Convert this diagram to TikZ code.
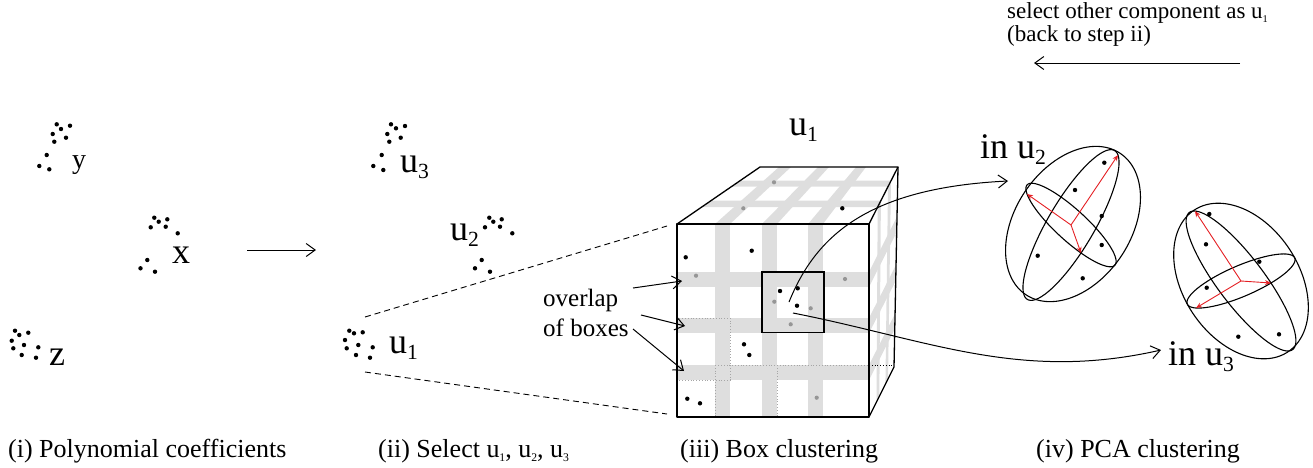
\documentclass[tikz,border=0pt]{standalone}
\usepackage{fontspec}
\setmainfont{Liberation Serif}
\usetikzlibrary{arrows.meta}
\definecolor{bandgray}{RGB}{222,222,222}
\definecolor{dotgray}{RGB}{150,150,150}
\definecolor{pcared}{RGB}{228,32,36}
% lowered, shrunken index: \subidx[scale]{text}
\newcommand\subidx[2][0.6]{\raisebox{-0.4ex}{\scalebox{#1}{#2}}}
% ellipse c + a cos t + b sin t : {style}{cx}{cy}{ax}{ay}{bx}{by}
\newcommand\ering[7]{\draw[#1] plot[domain=0:355,samples=72,smooth cycle,variable=\t]
  ({#2+(#4)*cos(\t)+(#6)*sin(\t)},{#3+(#5)*cos(\t)+(#7)*sin(\t)});}
\begin{document}
\begin{tikzpicture}[x=1pt,y=-1pt,
  lab/.style={inner sep=0pt, anchor=base west, font=\fontsize{36}{40}\selectfont},
  smalllab/.style={inner sep=0pt, anchor=base west, font=\fontsize{28}{32}\selectfont},
  captext/.style={inner sep=0pt, anchor=base west, font=\fontsize{26}{30}\selectfont},
  note/.style={inner sep=0pt, anchor=north west, align=left},
  barb/.style={-{Straight Barb[length=9pt,width=13pt]}, line width=1pt},
  cubeedge/.style={line width=1.3pt, line join=round},
  ax/.style={draw=pcared, line width=0.9pt, -{Stealth[length=6pt,width=5pt]}},
  ring/.style={line width=1.1pt},
  boxline/.style={dash pattern=on 6pt off 4pt, line width=0.9pt},
  olap/.style={dotted, draw=gray!70, line width=0.8pt}
]
\useasboundingbox (0,0) rectangle (1313,467);

% ---------- (i) polynomial coefficients ----------
\foreach \p in {(56.7,124.3),(61,129),(70,125.7),(52.7,134),(66,137.7),(54.3,141.7),(46.7,155),(39.3,166),(49.3,169.3)}
  \fill \p circle (2.2pt);
\foreach \p in {(154.3,217.7),(158.7,221.7),(167.3,219.3),(150.7,227.3),(165.7,226.7),(177.7,233.3),(147.3,260),(140.5,268.3),(155,271.7)}
  \fill \p circle (2.2pt);
\foreach \p in {(15,330.7),(19.3,335),(28.3,332.7),(11.7,340.7),(24,345),(38.3,347.3),(13.3,348.3),(21.7,355),(36,357.7)}
  \fill \p circle (2.2pt);
\node[smalllab] (ly) at (72,168) {y};
\node[lab] (lx) at (172,263) {x};
\node[lab] (lz) at (49,365) {z};
\coordinate (stepS) at (247,250);
\coordinate (stepE) at (316,250);
\draw[barb] (stepS) -- (stepE);

% ---------- (ii) selected coordinates ----------
\foreach \p in {(391,124.3),(396,128.3),(405,126),(387.3,134),(400.7,137.7),(389.3,141.7),(381.7,155),(373.3,166),(383.3,170)}
  \fill \p circle (2.2pt);
\foreach \p in {(489.3,217.7),(493.3,221.7),(501.7,219.3),(485,227.3),(500,226.7),(512.3,233.3),(481.7,260),(475,268.3),(490,271.7)}
  \fill \p circle (2.2pt);
\foreach \p in {(349.3,330.7),(354,333.3),(362.7,332.3),(345,340),(358.3,345),(372.7,347.3),(346.7,348.3),(356,355),(370,357.7)}
  \fill \p circle (2.2pt);
\node[lab] (lu3) at (400,172) {u\subidx{3}};
\node[lab] (lu2) at (450,240) {u\subidx{2}};
\node[lab] (lu1) at (389,353) {u\subidx{1}};

% ---------- (iii) box clustering: the cube ----------
\coordinate (fA) at (677,224);
\coordinate (fB) at (869,224);
\coordinate (fC) at (869,417);
\coordinate (fD) at (677,417);
\coordinate (bTL) at (760,167);
\coordinate (bTR) at (898,167);
\coordinate (bBR) at (894,367);

% overlapping box bands, front face
\foreach \a in {715,762,808} \fill[bandgray] (\a,224) rectangle (\a+15,417);
\foreach \a in {272,318,365} \fill[bandgray] (677,\a) rectangle (869,\a+15);
% top face
\fill[bandgray] (715,224)--(730,224)--(791,167)--(779,167)--cycle;
\fill[bandgray] (762,224)--(777,224)--(829,167)--(818,167)--cycle;
\fill[bandgray] (808,224)--(823,224)--(866,167)--(856,167)--cycle;
\fill[bandgray] (702,207)--(878,207)--(881,200.6)--(711,200.6)--cycle;
\fill[bandgray] (731,186.7)--(888,186.7)--(891,180.7)--(740,180.7)--cycle;
% right face
\fill[bandgray] (869,272)--(869,287)--(896.7,232.2)--(897,216.6)--cycle;
\fill[bandgray] (869,318)--(869,333)--(895.7,281)--(896,265)--cycle;
\fill[bandgray] (869,365)--(869,380)--(894.8,329)--(895.1,313.6)--cycle;
\fill[bandgray] (877.7,206.9)--(880.9,200.6)--(879.3,396.5)--(876.5,402)--cycle;
\fill[bandgray] (888,186.7)--(891,180.7)--(888,379)--(885.4,384.3)--cycle;

% outlines of single overlapping boxes
\draw[olap] (677,318) rectangle (730,380);
\draw[olap] (715,365) rectangle (777,417);
\draw[olap] (777,365) -- (869,365);
\draw[dotted, line width=0.8pt] (869,365) -- (893,365);

% points inside the cube
\foreach \p in {(842.3,208.3),(685.7,257.3),(751.7,250.7),(780,291),(797.7,288.3),(797,305.7),(744,344.3),(749.3,355),(687.3,398.7),(700,403.3)}
  \fill \p circle (2.2pt);
\foreach \p in {(774,182.3),(743.3,208.3),(696,275.7),(845,279),(774.3,301.7),(810.7,308.3),(790.7,324.3),(816.7,397.7)}
  \fill[dotgray] \p circle (2.1pt);

% cube edges
\draw[cubeedge] (fA) rectangle (fC);
\draw[cubeedge] (fA) -- (bTL) -- (bTR) -- (fB);
\draw[cubeedge] (bTR) -- (bBR) -- (fC);
% highlighted box
\coordinate (hbA) at (762,272);
\coordinate (hbB) at (824,332.5);
\draw[line width=1.2pt] (hbA) rectangle (hbB);

\node[lab] (lcube) at (789,135) {u\subidx{1}};

% zoom lines from u1 to the cube
\coordinate (zU) at (365,317);
\coordinate (zL) at (365,372);
\coordinate (zUe) at (667,226);
\coordinate (zLe) at (667,414);
\draw[boxline] (zU) -- (zUe);
\draw[boxline] (zL) -- (zLe);

% overlap annotation
\node[note, font=\fontsize{25}{30}\selectfont] (olabel) at (543,289) {overlap\\of boxes};
\coordinate (ov1s) at (633,288);  \coordinate (ov1e) at (682,281);
\coordinate (ov2s) at (641,315);  \coordinate (ov2e) at (685,326);
\coordinate (ov3s) at (633,329);  \coordinate (ov3e) at (684,371);
\draw[barb] (ov1s) -- (ov1e);
\draw[barb] (ov2s) -- (ov2e);
\draw[barb] (ov3s) -- (ov3e);

% ---------- (iv) PCA clustering ----------
% ellipsoid in u2
\coordinate (e1c) at (1071,225);
\coordinate (e1a) at (1118,155);
\coordinate (e1b) at (1027,194);
\coordinate (e1d) at (1081,253);
\ering{ring}{1073}{224}{47.3}{-70.6}{-48.1}{-32.3}
\ering{ring}{1071}{225}{47}{-70}{10}{28}
\ering{ring}{1071}{225}{-44}{-31}{10}{28}
\draw[ax] (e1c) -- (e1a);
\draw[ax] (e1c) -- (e1b);
\draw[ax] (e1c) -- (e1d);
\foreach \p in {(1104.3,162.7),(1075,190),(1101.7,216),(1101.7,245),(1037.7,255.7),(1082.7,278.3)}
  \fill \p circle (2.2pt);

% ellipsoid in u3
\coordinate (e2c) at (1241,281);
\coordinate (e2a) at (1195,211);
\coordinate (e2b) at (1271,283);
\coordinate (e2d) at (1196,308);
\ering{ring}{1241}{281}{-46.7}{-71}{-48.5}{31.8}
\ering{ring}{1241}{281}{-46}{-70}{30}{2}
\ering{ring}{1241}{281}{-45}{27}{30}{2}
\draw[ax] (e2c) -- (e2a);
\draw[ax] (e2c) -- (e2b);
\draw[ax] (e2c) -- (e2d);
\foreach \p in {(1209.3,214),(1206,244.3),(1259.3,261.7),(1206.7,287.7),(1238.3,336.7),(1279,334.3)}
  \fill \p circle (2.2pt);

\node[lab] (lin2) at (980,158) {in u\subidx{2}};
\node[lab] (lin3) at (1168,365) {in u\subidx{3}};

% curved connectors from the highlighted box
\coordinate (c2s) at (789,302);
\coordinate (c2e) at (1008,181);
\coordinate (c3s) at (793,313);
\coordinate (c3e) at (1161,350);
\draw[barb] (c2s) .. controls (815,238) and (865,188) .. (c2e);
\draw[barb] (c3s) .. controls (930,340) and (1020,382) .. (c3e);

% ---------- loop back ----------
\node[note, font=\fontsize{23}{23}\selectfont] (back) at (1007,2)
  {select other component as u\subidx[0.45]{1}\\(back to step ii)};
\coordinate (bkS) at (1240,63);
\coordinate (bkE) at (1034,63);
\draw[barb] (bkS) -- (bkE);

% ---------- captions ----------
\node[captext] (cap1) at (8,457) {(i) Polynomial coefficients};
\node[captext] (cap2) at (378,457) {(ii) Select u\subidx[0.45]{1}, u\subidx[0.45]{2}, u\subidx[0.45]{3}};
\node[captext] (cap3) at (680,457) {(iii) Box clustering};
\node[captext] (cap4) at (1036,457) {(iv) PCA clustering};
\end{tikzpicture}
\end{document}
